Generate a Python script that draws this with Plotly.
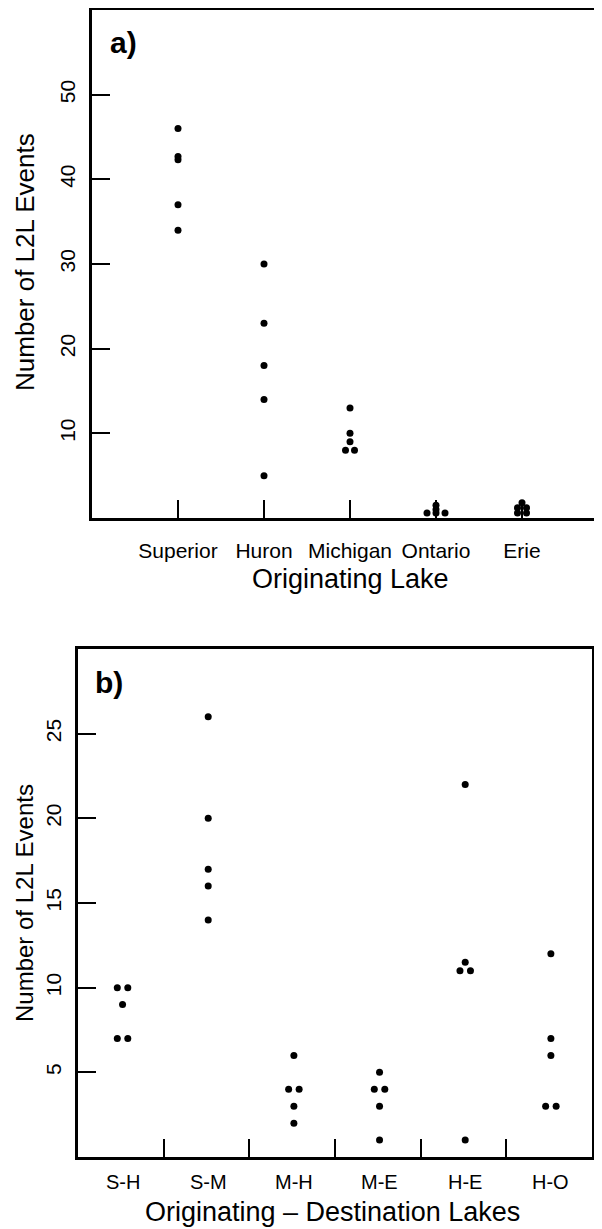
import plotly.graph_objects as go

# ---------------- data ----------------
lakes = ["Superior", "Huron", "Michigan", "Ontario", "Erie"]
superior = [46, 42.7, 42.3, 37, 34]
huron = [30, 23, 18, 14, 5]
michigan = [13, 10, 9, 8, 8]
ontario = [1.5, 1.0, 0.6, 0.6, 0.6]
erie = [1.8, 1.2, 1.2, 0.6, 0.6]
lake_values = [superior, huron, michigan, ontario, erie]

pairs = ["S-H", "S-M", "M-H", "M-E", "H-E", "H-O"]
s_h = [10, 10, 9, 7, 7]
s_m = [26, 20, 17, 16, 14]
m_h = [6, 4, 4, 3, 2]
m_e = [5, 4, 4, 3, 1]
h_e = [22, 11.5, 11, 11, 1]
h_o = [12, 7, 6, 3, 3]
pair_values = [s_h, s_m, m_h, m_e, h_e, h_o]

a_yticks = [10, 20, 30, 40, 50]
b_yticks = [5, 10, 15, 20, 25]

# ---------------- layout helpers ----------------
WIN_W, WIN_H = 602, 1229
OFF = 8  # page body margin
W, H = WIN_W - OFF, WIN_H - OFF


def px_x(p):
    return (p - OFF) / W


def px_y(p):
    return 1 - (p - OFF) / H


FONT = "Liberation Sans, Arial, sans-serif"
NARROW = "Liberation Sans Narrow, Liberation Sans, Arial, sans-serif"


def stack_offsets(values, step):
    """Spread exactly tied values side by side (centred), keeping data order."""
    offs = [0.0] * len(values)
    groups = {}
    for i, v in enumerate(values):
        groups.setdefault(v, []).append(i)
    for v, idx in groups.items():
        k = len(idx)
        for j, i in enumerate(idx):
            offs[i] = (j - (k - 1) / 2) * step
    return offs


fig = go.Figure()

# panel a points
a_x_left = 92
a_unit = 86.0
a_step = 9 / a_unit
xs, ys = [], []
for i, vals in enumerate(lake_values):
    offs = stack_offsets(vals, a_step)
    for v, o in zip(vals, offs):
        xs.append(i + 1 + o)
        ys.append(v)
fig.add_trace(go.Scatter(x=xs, y=ys, mode="markers", xaxis="x", yaxis="y",
                         marker=dict(color="black", size=7, line=dict(width=0)),
                         showlegend=False, hoverinfo="skip"))

# panel b points
b_shift = 0.52
b_step = 10.5 / 85.7
xs, ys = [], []
for i, vals in enumerate(pair_values):
    offs = stack_offsets(vals, b_step)
    for v, o in zip(vals, offs):
        xs.append(i + b_shift + o)
        ys.append(v)
fig.add_trace(go.Scatter(x=xs, y=ys, mode="markers", xaxis="x2", yaxis="y2",
                         marker=dict(color="black", size=7, line=dict(width=0)),
                         showlegend=False, hoverinfo="skip"))

tick_common = dict(ticks="inside", ticklen=18, tickwidth=2, tickcolor="black",
                   showgrid=False, zeroline=False, linecolor="black", linewidth=3)

fig.update_layout(
    width=W, height=H, margin=dict(l=0, r=0, t=0, b=0),
    paper_bgcolor="white", plot_bgcolor="white",
    xaxis=dict(domain=[px_x(a_x_left), 1.0], range=[0, (WIN_W - a_x_left) / a_unit],
               anchor="y", showline=True, mirror=True,
               tickvals=[1, 2, 3, 4, 5], ticktext=lakes,
               tickfont=dict(family=FONT, size=21, color="black"),
               ticklabelstandoff=12, **tick_common),
    yaxis=dict(domain=[px_y(518), px_y(10)], range=[0, 60], anchor="x",
               showline=True, mirror=False,
               tickvals=a_yticks, tickangle=-90,
               tickfont=dict(family=NARROW, size=21, color="black"),
               ticklabelstandoff=6, **tick_common),
    xaxis2=dict(domain=[px_x(78), px_x(592)], range=[0, 6], anchor="y2",
                showline=True, mirror=True,
                tickvals=[1, 2, 3, 4, 5], showticklabels=False, **tick_common),
    yaxis2=dict(domain=[px_y(1157), px_y(649)], range=[0, 30], anchor="x2",
                showline=True, mirror=True,
                tickvals=b_yticks, tickangle=-90,
                tickfont=dict(family=NARROW, size=21, color="black"),
                ticklabelstandoff=6, **tick_common),
)

ann = []
# panel b category labels
for i, lab in enumerate(pairs):
    ann.append(dict(x=i + b_shift, y=px_y(1182), xref="x2", yref="paper",
                    text=lab, showarrow=False, xanchor="center", yanchor="middle",
                    font=dict(family=FONT, size=20, color="black")))
# titles
ann.append(dict(x=px_x(350), y=px_y(579), xref="paper", yref="paper",
                text="Originating Lake", showarrow=False,
                xanchor="center", yanchor="middle",
                font=dict(family=FONT, size=27, color="black")))
ann.append(dict(x=px_x(332), y=px_y(1212), xref="paper", yref="paper",
                text="Originating \u2013 Destination Lakes", showarrow=False,
                xanchor="center", yanchor="middle",
                font=dict(family=FONT, size=27, color="black")))
ann.append(dict(x=px_x(25), y=px_y(262), xref="paper", yref="paper",
                text="Number of L2L Events", showarrow=False, textangle=-90,
                xanchor="center", yanchor="middle",
                font=dict(family=FONT, size=26, color="black")))
ann.append(dict(x=px_x(24), y=px_y(903), xref="paper", yref="paper",
                text="Number of L2L Events", showarrow=False, textangle=-90,
                xanchor="center", yanchor="middle",
                font=dict(family=FONT, size=24, color="black")))
# panel letters
ann.append(dict(x=px_x(108), y=px_y(43), xref="paper", yref="paper",
                text="<b>a)</b>", showarrow=False, xanchor="left", yanchor="middle",
                font=dict(family=FONT, size=30, color="black")))
ann.append(dict(x=px_x(93), y=px_y(682), xref="paper", yref="paper",
                text="<b>b)</b>", showarrow=False, xanchor="left", yanchor="middle",
                font=dict(family=FONT, size=30, color="black")))
fig.update_layout(annotations=ann)

fig.write_html("out.html")
